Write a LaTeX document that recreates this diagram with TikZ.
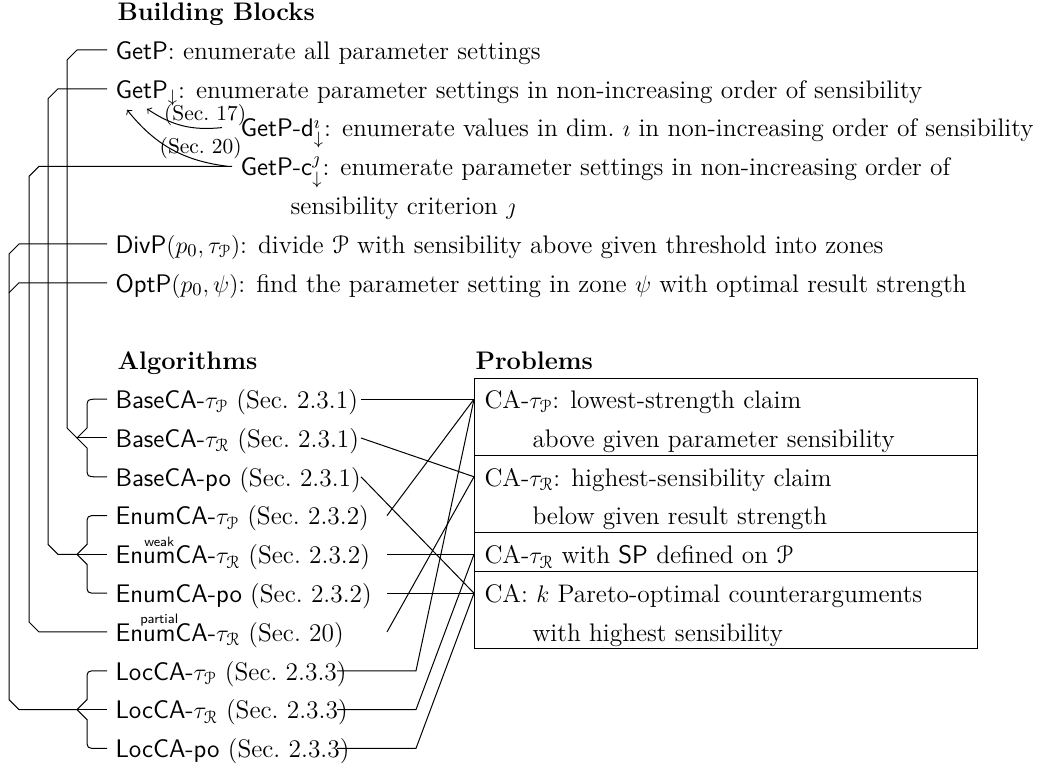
\documentclass[tikz,border=0pt]{standalone}
\usepackage{amsmath,amssymb}
\usepackage[mathcal]{eucal}
\newsavebox\ovrbox
\newcommand\ovrtxt[2]{\sbox\ovrbox{\sffamily #2}\rlap{\makebox[\wd\ovrbox][c]{\raisebox{8.8pt}{\sffamily\fontsize{6.8}{6}\selectfont #1}}}\usebox\ovrbox}
\begin{document}
\begin{tikzpicture}[x=0.5pt,y=-0.5pt,
  font=\fontsize{12.7}{15}\selectfont,
  line width=0.5pt,
  txt/.style={anchor=west, inner sep=4pt, text height=11.2pt, text depth=1.8pt},
  hd/.style={txt, font=\fontsize{12.7}{15}\selectfont\bfseries},
  ptxt/.style={anchor=west, inner xsep=5pt, inner ysep=4pt, text height=11.2pt, text depth=1.8pt},
  seclab/.style={font=\fontsize{10.7}{12}\selectfont, inner sep=1pt, anchor=south}]
\useasboundingbox (0,0) rectangle (1045,763);
% Building blocks
\node[hd] (bb) at (109,11.2) {Building Blocks};
\node[txt] (g0) at (107,50) {\textsf{GetP}: enumerate all parameter settings};
\node[txt] (g1) at (107,88.8) {\textsf{GetP}$_\downarrow$: enumerate parameter settings in non-increasing order of sensibility};
\node[txt] (gd) at (232,127.6) {\textsf{GetP-d}$^\imath_\downarrow$: enumerate values in dim.~$\imath$ in non-increasing order of sensibility};
\node[txt] (gc) at (232,166.4) {\textsf{GetP-c}$^\jmath_\downarrow$: enumerate parameter settings in non-increasing order of};
\node[txt] (gc2) at (282,205.2) {sensibility criterion $\jmath$};
\node[txt] (dp) at (107,244) {\textsf{DivP}$(p_0,\tau_{\mathcal{P}})$: divide $\mathcal{P}$ with sensibility above given threshold into zones};
\node[txt] (op) at (107,282.8) {\textsf{OptP}$(p_0,\psi)$: find the parameter setting in zone $\psi$ with optimal result strength};
% headers
\node[hd] (alg) at (109,360.4) {Algorithms};
\node[hd] (prb) at (467,360.4) {Problems};
% algorithms
\node[txt] (b1) at (107,399.2) {\textsf{BaseCA-}$\tau_{\mathcal{P}}$ (Sec.~2.3.1)};
\node[txt] (b2) at (107,438) {\textsf{BaseCA-}$\tau_{\mathcal{R}}$ (Sec.~2.3.1)};
\node[txt] (b3) at (107,476.8) {\textsf{BaseCA-po} (Sec.~2.3.1)};
\node[txt] (e1) at (107,515.6) {\textsf{EnumCA-}$\tau_{\mathcal{P}}$ (Sec.~2.3.2)};
\node[txt] (e2) at (107,554.4) {\textsf{En}\ovrtxt{weak}{um}\textsf{CA-}$\tau_{\mathcal{R}}$ (Sec.~2.3.2)};
\node[txt] (e3) at (107,593.2) {\textsf{EnumCA-po} (Sec.~2.3.2)};
\node[txt] (e4) at (107,632) {\textsf{En}\ovrtxt{partial}{um}\textsf{CA-}$\tau_{\mathcal{R}}$ (Sec.~20)};
\node[txt] (l1) at (107,670.8) {\textsf{LocCA-}$\tau_{\mathcal{P}}$ (Sec.~2.3.3)};
\node[txt] (l2) at (107,709.6) {\textsf{LocCA-}$\tau_{\mathcal{R}}$ (Sec.~2.3.3)};
\node[txt] (l3) at (107,748.4) {\textsf{LocCA-po} (Sec.~2.3.3)};
% problems
\node[ptxt] (pa) at (474,399.2) {CA-$\tau_{\mathcal{P}}$: lowest-strength claim};
\node[ptxt] (pa2) at (522,438) {above given parameter sensibility};
\node[ptxt] (pb) at (474,476.8) {CA-$\tau_{\mathcal{R}}$: highest-sensibility claim};
\node[ptxt] (pb2) at (522,515.6) {below given result strength};
\node[ptxt] (pc) at (474,554.4) {CA-$\tau_{\mathcal{R}}$ with \textsf{SP} defined on $\mathcal{P}$};
\node[ptxt] (pd) at (474,593.2) {CA: $k$ Pareto-optimal counterarguments};
\node[ptxt] (pd2) at (522,632) {with highest sensibility};
\draw (474,379) rectangle (977,649);
\draw (474,456) -- (977,456);
\draw (474,533) -- (977,533);
\draw (474,572) -- (977,572);
% brace points
\coordinate (bp1) at (77,438);
\coordinate (bp2) at (77,554.4);
\coordinate (bp3) at (77,709.6);
% braces
\draw (b1.west) -- (97,399.2) .. controls (87,399.2) .. (87,409.2) -- (87,428) -- (bp1) -- (87,448) -- (87,466.8) .. controls (87,476.8) .. (97,476.8) -- (b3.west);
\draw (bp1) -- (b2.west);
\draw (e1.west) -- (97,515.6) .. controls (87,515.6) .. (87,525.6) -- (87,544.4) -- (bp2) -- (87,564.4) -- (87,583.2) .. controls (87,593.2) .. (97,593.2) -- (e3.west);
\draw (bp2) -- (e2.west);
\draw (l1.west) -- (97,670.8) .. controls (87,670.8) .. (87,680.8) -- (87,699.6) -- (bp3) -- (87,719.6) -- (87,738.4) .. controls (87,748.4) .. (97,748.4) -- (l3.west);
\draw (bp3) -- (l2.west);
% left tree
\draw (g0.west) -- (77,50) -- (67,60) -- (67,428) -- (bp1);
\draw (g1.west) -- (58,88.8) -- (48,98.8) -- (48,544.4) -- (58,554.4) -- (bp2);
\draw (gc.west) -- (39,166.4) -- (29,176.4) -- (29,622) -- (39,632) -- (e4.west);
\draw (dp.west) -- (19,244) -- (9,254) -- (9,699.6) -- (19,709.6) -- (bp3);
\draw (op.west) -- (19,282.8) -- (9,292.8);
% right connectors
\draw (b1.west) ++(254,0) -- (pa.west);
\draw (b2.west) ++(254,0) -- (pb.west);
\draw (b3.west) ++(254,0) -- (pd.west);
\draw (e1.west) ++(280,0) -- (pa.west);
\draw (e2.west) ++(280,0) -- (pc.west);
\draw (e3.west) ++(280,0) -- (pd.west);
\draw (e4.west) ++(280,0) -- (pb.west);
\draw (l1.west) ++(230,0) -- ++(79,0) -- (pa.west);
\draw (l2.west) ++(230,0) -- ++(79,0) -- (pc.west);
\draw (l3.west) ++(230,0) -- ++(79,0) -- (pd.west);
% top arrows
\draw[->] (gd.west) ++(-10,0) to[bend left=20] node[seclab, pos=0.2] {(Sec.~17)} ([shift={(40,20)}]g1.west);
\draw[->] (gc.west) ++(-4,0) to[bend left=22] node[seclab, pos=0.22] {(Sec.~20)} ([shift={(20,21)}]g1.west);
\end{tikzpicture}
\end{document}
